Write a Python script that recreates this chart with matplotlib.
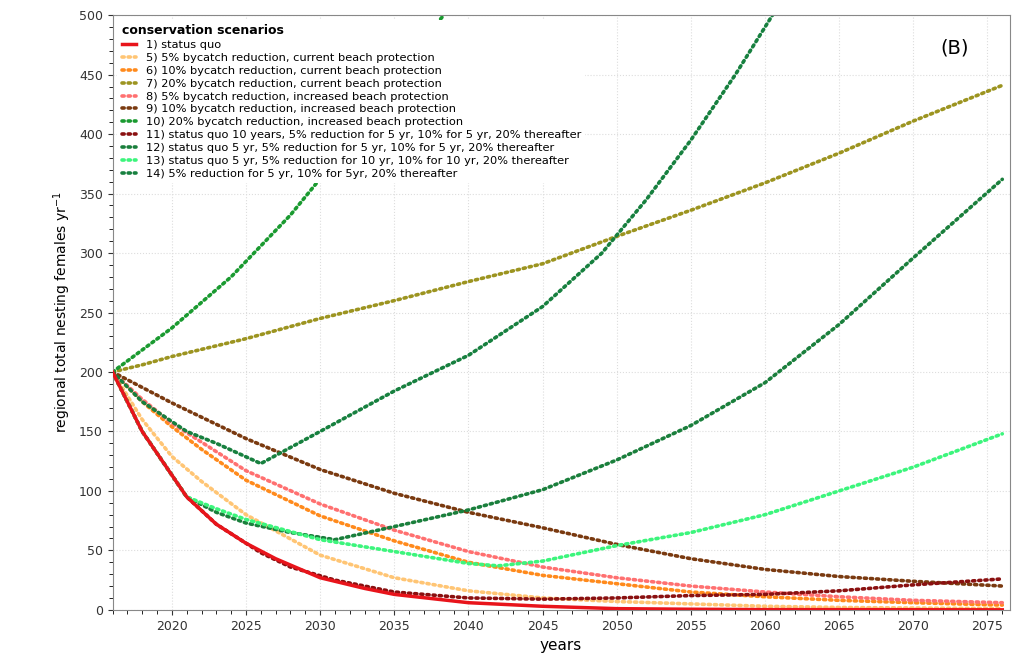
import matplotlib.pyplot as plt
from matplotlib.ticker import MultipleLocator

# values, per scenario
yrs_sq = [2016, 2018, 2021, 2023, 2025, 2027, 2030, 2033, 2035, 2040, 2045, 2050, 2055, 2060, 2076]
sq = [200, 150, 95, 72, 56, 43, 27, 18, 13, 6, 3, 1, 0.5, 0.2, 0]

yrs = [2016, 2018, 2020, 2022, 2025, 2030, 2035, 2040, 2045, 2050, 2055, 2060, 2065, 2070, 2076]
s5 = [200, 160, 129, 108, 80, 46, 27, 16, 10, 7, 5, 3, 2, 1.5, 1]
s6 = [200, 175, 154, 135, 109, 79, 58, 40, 29, 22, 15, 11, 8, 6, 4]
s7 = [200, 206, 213, 219, 228, 245, 260, 276, 291, 314, 336, 359, 384, 411, 441]
s8 = [200, 177, 157, 141, 117, 89, 67, 49, 36, 27, 20, 15, 11, 8, 6]
s9 = [200, 187, 174, 162, 144, 118, 98, 82, 69, 55, 43, 34, 28, 24, 20]

yrs10 = [2016, 2020, 2024, 2028, 2032, 2036, 2039]
s10 = [200, 237, 280, 332, 393, 465, 510]

yrs11 = [2016, 2018, 2021, 2023, 2026, 2028, 2031, 2035, 2040, 2045, 2050, 2055, 2060, 2065, 2070, 2076]
s11 = [200, 150, 95, 72, 48, 36, 25, 15, 10, 9, 10, 12, 13, 16, 21, 26]

yrs12 = [2016, 2018, 2021, 2023, 2025, 2028, 2031, 2035, 2040, 2045, 2050, 2055, 2060, 2065, 2070, 2076]
s12 = [200, 150, 95, 82, 73, 65, 59, 70, 84, 101, 126, 155, 191, 240, 296, 362]

yrs13 = [2016, 2018, 2021, 2023, 2025, 2030, 2035, 2040, 2042, 2045, 2050, 2055, 2060, 2065, 2070, 2076]
s13 = [200, 150, 95, 85, 76, 59, 49, 39, 37, 41, 54, 65, 80, 100, 120, 148]

yrs14 = [2016, 2018, 2021, 2023, 2026, 2030, 2035, 2040, 2045, 2049, 2052, 2055, 2058, 2061]
s14 = [200, 175, 150, 140, 123, 150, 184, 214, 255, 300, 345, 395, 450, 510]

labels = [
    '1) status quo',
    '5) 5% bycatch reduction, current beach protection',
    '6) 10% bycatch reduction, current beach protection',
    '7) 20% bycatch reduction, current beach protection',
    '8) 5% bycatch reduction, increased beach protection',
    '9) 10% bycatch reduction, increased beach protection',
    '10) 20% bycatch reduction, increased beach protection',
    '11) status quo 10 years, 5% reduction for 5 yr, 10% for 5 yr, 20% thereafter',
    '12) status quo 5 yr, 5% reduction for 5 yr, 10% for 5 yr, 20% thereafter',
    '13) status quo 5 yr, 5% reduction for 10 yr, 10% for 10 yr, 20% thereafter',
    '14) 5% reduction for 5 yr, 10% for 5yr, 20% thereafter',
]
colors = ['#e8141b', '#ffc574', '#ff8a1c', '#9c9420', '#ff7070', '#7a3a10',
          '#1a9a30', '#8a1010', '#1a7f3c', '#3cf57c', '#17803f']

fig = plt.figure(figsize=(10.23, 6.6), dpi=100)
ax = fig.add_axes([0.110, 0.076, 0.877, 0.901])

dot = dict(linestyle=(0, (0.6, 1.1)), linewidth=2.6, dash_capstyle='round')
series = [(yrs, s5), (yrs, s6), (yrs, s7), (yrs, s8), (yrs, s9), (yrs10, s10),
          (yrs11, s11), (yrs12, s12), (yrs13, s13), (yrs14, s14)]
# draw dotted scenarios first, status quo on top
for (x, y), c, lab in zip(series, colors[1:], labels[1:]):
    ax.plot(x, y, color=c, label=lab, **dot)
ax.plot(yrs_sq, sq, color=colors[0], lw=2.5, label=labels[0], zorder=5)

ax.set_xlim(2016, 2076.5)
ax.set_ylim(0, 500)
ax.xaxis.set_major_locator(MultipleLocator(5))
ax.xaxis.set_minor_locator(MultipleLocator(1))
ax.yaxis.set_major_locator(MultipleLocator(50))
ax.yaxis.set_minor_locator(MultipleLocator(10))
ax.set_xticks(range(2020, 2080, 5))
ax.tick_params(direction='out', labelsize=9, colors='#333333')
ax.tick_params(which='minor', direction='out', length=3)
ax.grid(True, which='major', linestyle=':', color='#dddddd', lw=0.8)
for s in ax.spines.values():
    s.set_color('#888888')

ax.set_xlabel('years', fontsize=11)
ax.set_ylabel('regional total nesting females yr$^{-1}$', fontsize=10)
ax.text(0.955, 0.945, '(B)', transform=ax.transAxes, fontsize=14, ha='right', va='center')

h, l = ax.get_legend_handles_labels()
order = [10] + list(range(10))
leg = ax.legend([h[i] for i in order], [l[i] for i in order], loc='upper left',
                title='conservation scenarios', fontsize=8.2, frameon=True,
                facecolor='white', edgecolor='none', framealpha=1,
                handlelength=1.3, labelspacing=0.25, borderaxespad=0.4)
leg.get_title().set_fontweight('bold')
leg.get_title().set_fontsize(9)
leg._legend_box.align = 'left'
leg.set_zorder(10)

fig.savefig('out.png', dpi=100)
